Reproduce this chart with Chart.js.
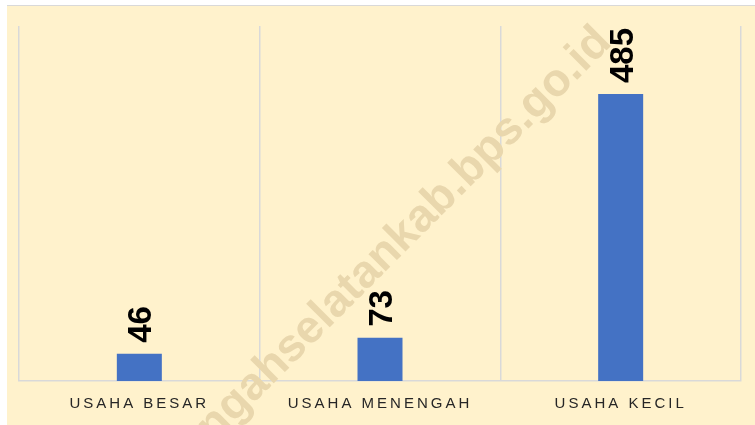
<!DOCTYPE html>
<html>
<head>
<meta charset="utf-8">
<script src="https://cdn.jsdelivr.net/npm/chart.js@4"></script>
<style>
  body { margin: 0; background: #ffffff; }
  #wrap {
    position: absolute; left: 7px; top: 5px;
    width: 748px; height: 419px;
    border-top: 1px solid #d9d9d9;
    background: #fff2cc;
  }
</style>
</head>
<body>
<div id="wrap"><canvas id="myData" width="748" height="419"></canvas></div>
<script>
const categories = ["USAHA BESAR", "USAHA MENENGAH", "USAHA KECIL"];
const jumlahUsaha = [46, 73, 485];
const watermark = "timortengahselatankab.bps.go.id";

// spaced-out category labels, values rotated above the bars
const spacing = {
    id: 'spacing',
    beforeDraw(chart) { chart.ctx.letterSpacing = '3px'; },
    beforeDatasetsDraw(chart) { chart.ctx.letterSpacing = '0px'; }
};

const stamp = {
    id: 'stamp',
    beforeDatasetsDraw(chart) {
        const ctx = chart.ctx;
        ctx.save();
        ctx.translate(606, 38);
        ctx.rotate(-Math.PI / 4);
        ctx.font = 'bold 46px "Liberation Sans"';
        ctx.fillStyle = '#e9d7ad';
        ctx.textAlign = 'right';
        ctx.textBaseline = 'alphabetic';
        ctx.fillText(watermark, 0, 0);
        ctx.restore();
    }
};

const valueLabels = {
    id: 'valueLabels',
    afterDatasetsDraw(chart) {
        const ctx = chart.ctx;
        const meta = chart.getDatasetMeta(0);
        ctx.save();
        ctx.font = 'bold 33px "Liberation Sans"';
        ctx.fillStyle = '#000000';
        ctx.textAlign = 'left';
        ctx.textBaseline = 'alphabetic';
        meta.data.forEach(function (bar, i) {
            ctx.save();
            ctx.translate(bar.x + 12, bar.y - 11);
            ctx.rotate(-Math.PI / 2);
            ctx.fillText(String(jumlahUsaha[i]), 0, 0);
            ctx.restore();
        });
        ctx.restore();
    }
};

var ctx = document.getElementById("myData").getContext("2d");

new Chart(ctx, {
    type: 'bar',
    data: {
        labels: categories,
        datasets: [{
            data: jumlahUsaha,
            backgroundColor: "#4472c4",
            categoryPercentage: 1,
            barPercentage: 0.187
        }]
    },
    options: {
        responsive: false,
        animation: false,
        layout: { padding: { left: 12, right: 14, top: 20, bottom: 0 } },
        plugins: {
            legend: { display: false },
            tooltip: { enabled: false }
        },
        scales: {
            x: {
                afterFit(scale) { scale.height = 44; },
                grid: { color: '#d9d9d9', lineWidth: 1.5, offset: true, drawTicks: false },
                border: { color: '#d9d9d9', width: 1.5 },
                ticks: {
                    color: '#262626',
                    padding: 14,
                    font: { family: '"Liberation Sans"', size: 15 }
                }
            },
            y: {
                display: false,
                min: 0,
                max: 600
            }
        }
    },
    plugins: [spacing, stamp, valueLabels]
});
</script>
</body>
</html>
